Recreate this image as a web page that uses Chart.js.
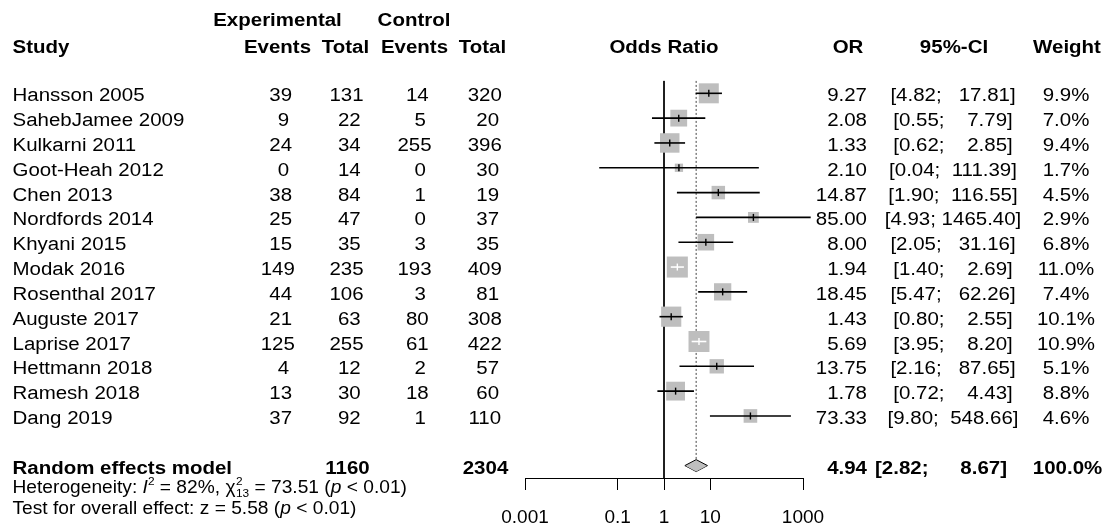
<!DOCTYPE html>
<html><head><meta charset="utf-8">
<script src="https://cdn.jsdelivr.net/npm/chart.js@4.4.1/dist/chart.umd.min.js"></script>
<style>html,body{margin:0;padding:0;background:#fff;}canvas{display:block;}</style>
</head><body>
<canvas id="c" width="1109" height="526"></canvas>
<script>
// ---------------- data ----------------
const studies = ["Hansson 2005","SahebJamee 2009","Kulkarni 2011","Goot-Heah 2012","Chen 2013","Nordfords 2014","Khyani 2015","Modak 2016","Rosenthal 2017","Auguste 2017","Laprise 2017","Hettmann 2018","Ramesh 2018","Dang 2019"];
const expEvents  = [39, 9, 24, 0, 38, 25, 15, 149, 44, 21, 125, 4, 13, 37];
const expTotal   = [131, 22, 34, 14, 84, 47, 35, 235, 106, 63, 255, 12, 30, 92];
const ctrlEvents = [14, 5, 255, 0, 1, 0, 3, 193, 3, 80, 61, 2, 18, 1];
const ctrlTotal  = [320, 20, 396, 30, 19, 37, 35, 409, 81, 308, 422, 57, 60, 110];
const oddsRatio  = [9.27, 2.08, 1.33, 2.10, 14.87, 85.00, 8.00, 1.94, 18.45, 1.43, 5.69, 13.75, 1.78, 73.33];
const ciLower    = [4.82, 0.55, 0.62, 0.04, 1.90, 4.93, 2.05, 1.40, 5.47, 0.80, 3.95, 2.16, 0.72, 9.80];
const ciUpper    = [17.81, 7.79, 2.85, 111.39, 116.55, 1465.40, 31.16, 2.69, 62.26, 2.55, 8.20, 87.65, 4.43, 548.66];
const weights    = [9.9, 7.0, 9.4, 1.7, 4.5, 2.9, 6.8, 11.0, 7.4, 10.1, 10.9, 5.1, 8.8, 4.6];

const pooledLabel = "Random effects model";
const pooledExpTotal = 1160;
const pooledCtrlTotal = 2304;
const pooledOR = 4.94;
const pooledLower = 2.82;
const pooledUpper = 8.67;
const pooledWeight = 100.0;

const hetI2 = 82;
const hetQ = 73.51;
const hetDf = 13;
const hetP = "< 0.01";
const testZ = 5.58;
const testP = "< 0.01";

const xTicks = [0.001, 0.1, 1, 10, 1000];

// ---------------- style ----------------
const FONT = '"Liberation Sans", Arial, sans-serif';
const FS = 18.8;      // font px
const SX = 1.09;      // horizontal stretch of text
const SQ_K = 6.35;    // square side = SQ_K * sqrt(weight)
const DIAM_H = 0.24;  // diamond half height (row units)
const GREY = '#bebebe';
const pooledRow = studies.length + 1;

function sqSide(w) { return SQ_K * Math.sqrt(w); }

function insideSquare(chart, i) {
  const xs = chart.scales.x;
  const half = sqSide(weights[i]) / 2;
  const px = xs.getPixelForValue(oddsRatio[i]);
  return xs.getPixelForValue(ciLower[i]) >= px - half && xs.getPixelForValue(ciUpper[i]) <= px + half;
}

// ---------------- datasets ----------------
const datasets = [];

// reference lines (drawn underneath)
datasets.push({
  type: 'scatter', showLine: true, data: [{x: 1, y: -0.5}, {x: 1, y: 15.5}],
  borderColor: '#000', borderWidth: 1, pointRadius: 0, order: 50, clip: false
});
datasets.push({
  type: 'scatter', showLine: true, data: [{x: pooledOR, y: -0.5}, {x: pooledOR, y: pooledRow - DIAM_H}],
  borderColor: '#444', borderWidth: 1, borderDash: [2, 2], pointRadius: 0, order: 49, clip: false
});

// squares
datasets.push({
  type: 'scatter',
  data: studies.map((s, i) => ({x: oddsRatio[i], y: i})),
  pointStyle: 'rect',
  pointRadius: ctx => sqSide(weights[ctx.dataIndex]) / Math.SQRT2,
  pointBackgroundColor: GREY, pointBorderWidth: 0, pointBorderColor: GREY,
  order: 40, clip: false
});

// CI lines
studies.forEach((s, i) => {
  datasets.push({
    type: 'scatter', showLine: true,
    data: [{x: ciLower[i], y: i}, {x: ciUpper[i], y: i}],
    borderColor: ctx => insideSquare(ctx.chart, i) ? '#fff' : '#000',
    borderWidth: 1.6, pointRadius: 0, order: 30, clip: false
  });
});

// estimate ticks
datasets.push({
  type: 'scatter',
  data: studies.map((s, i) => ({x: oddsRatio[i], y: i})),
  pointStyle: 'line', rotation: 90, pointRadius: 3.5,
  pointBorderColor: ctx => insideSquare(ctx.chart, ctx.dataIndex) ? '#fff' : '#000',
  pointBorderWidth: 1.4, order: 20, clip: false
});

// diamond (upper and lower halves, filled between)
datasets.push({
  type: 'scatter', showLine: true,
  data: [{x: pooledLower, y: pooledRow}, {x: pooledOR, y: pooledRow - DIAM_H}, {x: pooledUpper, y: pooledRow}],
  borderColor: '#000', borderWidth: 1, pointRadius: 0, tension: 0,
  fill: '+1', backgroundColor: GREY, order: 10, clip: false
});
datasets.push({
  type: 'scatter', showLine: true,
  data: [{x: pooledLower, y: pooledRow}, {x: pooledOR, y: pooledRow + DIAM_H}, {x: pooledUpper, y: pooledRow}],
  borderColor: '#000', borderWidth: 1, pointRadius: 0, tension: 0,
  fill: false, order: 10, clip: false
});

// ---------------- text plugin ----------------
function txt(ctx, s, x, y, align, opts = {}) {
  const size = opts.size || FS;
  const weight = opts.bold ? 'bold' : 'normal';
  const style = opts.italic ? 'italic' : 'normal';
  ctx.save();
  ctx.font = `${style} ${weight} ${size}px ${FONT}`;
  ctx.fillStyle = '#000';
  ctx.textBaseline = 'alphabetic';
  ctx.textAlign = 'left';
  const w = ctx.measureText(s).width * SX;
  let x0 = x;
  if (align === 'center') x0 = x - w / 2;
  else if (align === 'right') x0 = x - w;
  ctx.translate(x0, y);
  ctx.scale(SX, 1);
  ctx.fillText(s, 0, 0);
  ctx.restore();
  return w;
}
function pad(v, n) { return String(v).padStart(n, ' '); }

function runs(ctx, parts, x, y, size) {
  let cx = x;
  const small = size * 0.62;
  parts.forEach(p => {
    if (p.stack) {
      const w1 = txt(ctx, p.stack[0], cx + 0.5, y - size * 0.42, 'left', {size: small});
      const w2 = txt(ctx, p.stack[1], cx + 0.5, y + size * 0.26, 'left', {size: small});
      cx += Math.max(w1, w2) + 0.5;
    } else if (p.sup) {
      cx += txt(ctx, p.t, cx, y - size * 0.42, 'left', {size: small});
    } else {
      cx += txt(ctx, p.t, cx, y, 'left', {size: size, italic: p.italic});
    }
  });
}

const tablePlugin = {
  id: 'table',
  afterDraw(chart) {
    const ctx = chart.ctx;
    const ys = chart.scales.y;
    const xs = chart.scales.x;
    const rowY = r => ys.getPixelForValue(r) + 8;

    // headers
    const h1 = 26, h2 = 53;
    txt(ctx, 'Experimental', 277.5, h1, 'center', {bold: true});
    txt(ctx, 'Control', 414, h1, 'center', {bold: true});
    txt(ctx, 'Study', 12.5, h2, 'left', {bold: true});
    txt(ctx, 'Events', 277.5, h2, 'center', {bold: true});
    txt(ctx, 'Total', 345.5, h2, 'center', {bold: true});
    txt(ctx, 'Events', 414.5, h2, 'center', {bold: true});
    txt(ctx, 'Total', 482.5, h2, 'center', {bold: true});
    txt(ctx, 'Odds Ratio', (xs.left + xs.right) / 2, h2, 'center', {bold: true});
    txt(ctx, 'OR', 848, h2, 'center', {bold: true});
    txt(ctx, '95%-CI', 954, h2, 'center', {bold: true});
    txt(ctx, 'Weight', 1067, h2, 'center', {bold: true});

    // study rows
    studies.forEach((s, i) => {
      const y = rowY(i);
      txt(ctx, s, 12.5, y, 'left');
      txt(ctx, pad(expEvents[i], 3), 277.8, y, 'center');
      txt(ctx, pad(expTotal[i], 3), 346.5, y, 'center');
      txt(ctx, pad(ctrlEvents[i], 3), 414.5, y, 'center');
      txt(ctx, pad(ctrlTotal[i], 3), 484.8, y, 'center');
      txt(ctx, oddsRatio[i].toFixed(2), 867, y, 'right');
      txt(ctx, '[' + ciLower[i].toFixed(2) + '; ' + pad(ciUpper[i].toFixed(2), 7) + ']', 953, y, 'center');
      txt(ctx, weights[i].toFixed(1) + '%', 1066, y, 'center');
    });

    // pooled row
    const yp = rowY(pooledRow);
    txt(ctx, pooledLabel, 12.5, yp, 'left', {bold: true});
    txt(ctx, String(pooledExpTotal), 347.5, yp, 'center', {bold: true});
    txt(ctx, String(pooledCtrlTotal), 485.5, yp, 'center', {bold: true});
    txt(ctx, pooledOR.toFixed(2), 867, yp, 'right', {bold: true});
    txt(ctx, '[' + pooledLower.toFixed(2) + ';', 875, yp, 'left', {bold: true});
    txt(ctx, pooledUpper.toFixed(2) + ']', 1007, yp, 'right', {bold: true});
    txt(ctx, pooledWeight.toFixed(1) + '%', 1067.5, yp, 'center', {bold: true});

    // heterogeneity + test lines
    const fs2 = 17.6;
    runs(ctx, [
      {t: 'Heterogeneity: '}, {t: 'I', italic: true}, {t: '2', sup: true},
      {t: ' = ' + hetI2 + '%, '}, {t: '\u03C7'}, {stack: ['2', String(hetDf)]},
      {t: ' = ' + hetQ.toFixed(2) + ' ('}, {t: 'p', italic: true}, {t: ' ' + hetP + ')'}
    ], 12.5, 492.5, fs2);
    runs(ctx, [
      {t: 'Test for overall effect: '}, {t: 'z'}, {t: ' = ' + testZ.toFixed(2) + ' ('},
      {t: 'p', italic: true}, {t: ' ' + testP + ')'}
    ], 12.5, 514, fs2);
  }
};

// ---------------- chart ----------------
new Chart(document.getElementById('c'), {
  type: 'scatter',
  data: {datasets},
  options: {
    responsive: false,
    animation: false,
    events: [],
    layout: {padding: {left: 525, right: 306, top: 68.5, bottom: 0}},
    plugins: {legend: {display: false}, tooltip: {enabled: false}},
    scales: {
      x: {
        type: 'logarithmic', position: 'bottom', min: 0.001, max: 1000,
        afterBuildTicks: scale => { scale.ticks = xTicks.map(v => ({value: v})); },
        afterFit: scale => { scale.height = 48; },
        grid: {display: true, drawOnChartArea: false, drawTicks: true, tickLength: 12, color: '#000', lineWidth: 1},
        border: {display: true, color: '#000', width: 1},
        ticks: {
          autoSkip: false, maxRotation: 0, minRotation: 0, padding: 16,
          color: '#000', font: {family: FONT, size: 19},
          callback: v => String(v)
        }
      },
      y: {
        type: 'linear', display: false, reverse: true, min: -1, max: 15.5
      }
    }
  },
  plugins: [tablePlugin]
});
</script>
</body></html>
